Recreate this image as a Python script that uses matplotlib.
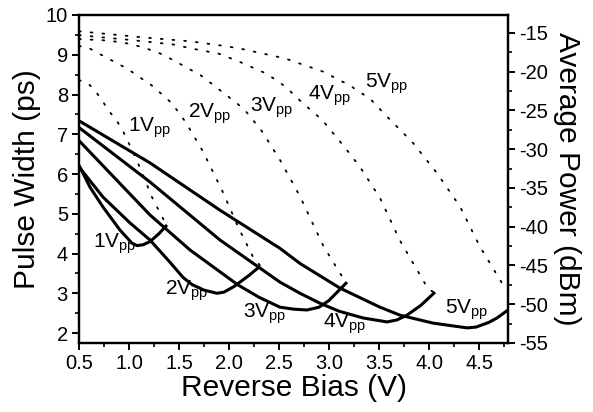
import numpy as np
import matplotlib.pyplot as plt
from matplotlib.ticker import MultipleLocator

plt.rcParams['font.family'] = ['Liberation Sans', 'DejaVu Sans']
plt.rcParams['mathtext.fontset'] = 'custom'
plt.rcParams['mathtext.rm'] = 'Liberation Sans'
plt.rcParams['axes.unicode_minus'] = False

labels = ['1V', '2V', '3V', '4V', '5V']

# pulse width (ps), left axis, solid
pw_x = [
    [0.5, 0.61, 0.74, 0.91, 1.03, 1.08, 1.14, 1.21, 1.30, 1.38],
    [0.5, 0.74, 1.01, 1.21, 1.41, 1.54, 1.63, 1.75, 1.88, 1.95, 2.05, 2.20, 2.31],
    [0.5, 1.21, 1.61, 2.09, 2.30, 2.51, 2.65, 2.78, 2.90, 3.00, 3.18],
    [0.5, 1.21, 1.91, 2.51, 2.71, 2.91, 3.10, 3.34, 3.58, 3.68, 3.78, 3.92, 4.06],
    [0.5, 1.21, 1.91, 2.51, 2.71, 3.11, 3.51, 3.71, 4.04, 4.38, 4.47, 4.60, 4.68, 4.79],
]
pw_y = [
    [6.22, 5.67, 5.17, 4.59, 4.26, 4.20, 4.22, 4.30, 4.50, 4.72],
    [6.18, 5.42, 4.77, 4.34, 3.78, 3.40, 3.22, 3.08, 3.00, 3.03, 3.17, 3.45, 3.68],
    [6.84, 4.97, 4.09, 3.21, 2.90, 2.65, 2.60, 2.58, 2.65, 2.82, 3.28],
    [7.17, 5.80, 4.34, 3.28, 3.00, 2.75, 2.55, 2.38, 2.28, 2.33, 2.45, 2.70, 3.03],
    [7.34, 6.28, 5.09, 4.13, 3.75, 3.13, 2.65, 2.45, 2.25, 2.13, 2.15, 2.27, 2.38, 2.58],
]

# average power (dBm), right axis, dotted
pw_dbm_x = [
    [0.5, 0.59, 0.67, 0.74, 0.80, 0.87, 0.93, 1.03, 1.11, 1.23, 1.33, 1.37],
    [0.5, 0.59, 0.76, 0.98, 1.24, 1.43, 1.56, 1.63, 1.74, 1.88, 1.93, 2.09, 2.24, 2.31],
    [0.5, 0.8, 1.0, 1.15, 1.34, 1.72, 2.09, 2.18, 2.33, 2.51, 2.71, 2.94, 3.11, 3.16],
    [0.5, 1.0, 1.15, 1.44, 1.62, 1.90, 2.10, 2.38, 2.56, 2.74, 2.93, 3.16, 3.31, 3.51, 3.71, 3.99, 4.04],
    [0.5, 1.15, 1.62, 1.90, 2.10, 2.56, 2.94, 3.21, 3.41, 3.58, 3.84, 4.08, 4.31, 4.51, 4.74, 4.77],
]
pw_dbm_y = [
    [-21.1, -21.5, -22.6, -23.9, -25.1, -26.2, -27.4, -30.1, -32.4, -36.2, -38.7, -39.7],
    [-16.7, -16.9, -18.1, -19.6, -21.9, -24.1, -26.4, -27.9, -30.3, -34.0, -35.3, -40.0, -43.9, -45.0],
    [-15.8, -16.0, -16.4, -16.9, -17.8, -20.5, -24.2, -25.3, -27.7, -31.4, -36.1, -42.4, -46.0, -47.0],
    [-15.3, -15.9, -16.1, -16.5, -17.0, -17.7, -18.7, -20.3, -21.9, -24.1, -26.2, -29.8, -32.3, -36.3, -41.8, -48.0, -48.4],
    [-14.8, -15.6, -16.1, -16.6, -17.0, -18.3, -20.0, -21.8, -23.5, -25.8, -29.2, -33.1, -37.4, -42.6, -47.5, -48.2],
]

# label positions (left-axis data coords)
top_lab_x = [0.99, 1.59, 2.21, 2.79, 3.36]
top_lab_y = [7.16, 7.53, 7.66, 7.97, 8.27]
bot_lab_x = [0.64, 1.36, 2.14, 2.94, 4.16]
bot_lab_y = [4.26, 3.08, 2.50, 2.25, 2.58]

fig = plt.figure(figsize=(5.93, 4.12), dpi=100)
ax = fig.add_axes([0.1332, 0.1675, 0.7235, 0.7961])
ax2 = ax.twinx()

for i in range(5):
    ax.plot(pw_x[i], pw_y[i], color='black', lw=2.2, solid_capstyle='butt')
    ax2.plot(pw_dbm_x[i], pw_dbm_y[i], color='black', lw=1.3,
             linestyle=(0, (1, 5.5)), dash_capstyle='round')

for i in range(5):
    ax.text(top_lab_x[i], top_lab_y[i], labels[i] + r'$_\mathregular{pp}$',
            fontsize=15, va='center', ha='left')
    ax.text(bot_lab_x[i], bot_lab_y[i], labels[i] + r'$_\mathregular{pp}$',
            fontsize=15, va='center', ha='left')

ax.set_xlim(0.5, 4.79)
ax.set_ylim(1.75, 10)
ax2.set_ylim(-55, -12.7)

ax.xaxis.set_major_locator(MultipleLocator(0.5))
ax.xaxis.set_minor_locator(MultipleLocator(0.25))
ax.yaxis.set_major_locator(MultipleLocator(1))
ax.yaxis.set_minor_locator(MultipleLocator(0.5))
ax2.yaxis.set_major_locator(MultipleLocator(5))
ax2.yaxis.set_minor_locator(MultipleLocator(2.5))

for a in (ax, ax2):
    for s in a.spines.values():
        s.set_linewidth(1.6)
    a.tick_params(which='major', length=5, width=1.4, labelsize=14.5, direction='out', pad=3)
    a.tick_params(which='minor', length=3, width=1.2, direction='out')
ax.tick_params(top=False, which='both')

ax.set_xlabel('Reverse Bias (V)', fontsize=21.5, labelpad=1)
ax.set_ylabel('Pulse Width (ps)', fontsize=21.5, labelpad=3)
ax2.set_ylabel('Average Power (dBm)', fontsize=21.5, rotation=270, labelpad=24)

fig.savefig('out.png', dpi=100)
